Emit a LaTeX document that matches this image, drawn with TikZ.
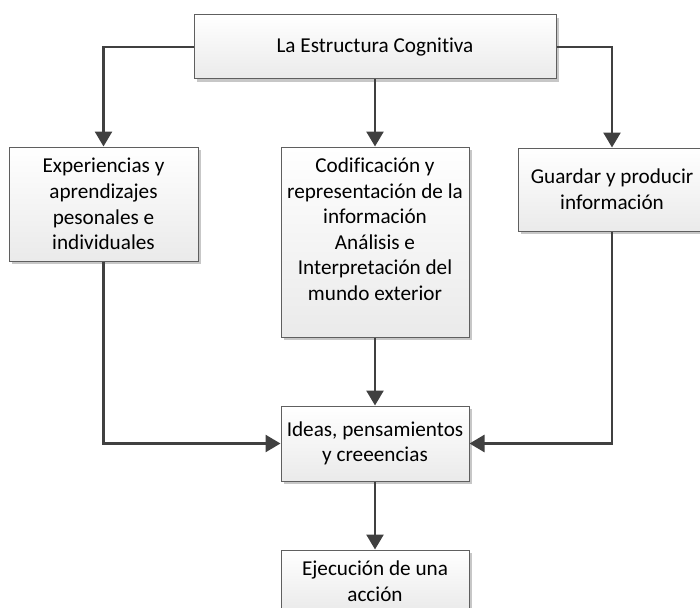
\documentclass[tikz,border=0pt]{standalone}
\usepackage{fontspec}
\setmainfont{Carlito}[Ligatures=NoCommon]
\usetikzlibrary{arrows.meta,shadows}
\definecolor{linec}{HTML}{404040}
\definecolor{boxb}{HTML}{5F5F5F}
\definecolor{boxbot}{HTML}{EAEAEA}
\tikzset{
  box/.style={draw=boxb, line width=1pt, top color=white, bottom color=boxbot,
    drop shadow={shadow xshift=3pt, shadow yshift=-3pt, fill=black!22, opacity=1},
    align=center, inner sep=0pt,
    font=\fontsize{21.2}{25.6}\selectfont},
  conn/.style={draw=linec, line width=2.6pt, -{Triangle[width=17pt,length=15pt]}},
}
\begin{document}
\begin{tikzpicture}[x=1pt,y=-1pt]
\useasboundingbox (0,0) rectangle (700,607);
\clip (0,0) rectangle (700,607);
\node[box, minimum width=362pt, minimum height=64pt] (top) at (375,47) {La Estructura Cognitiva};
\node[box, minimum width=189pt, minimum height=114pt] (left) at (103.5,204) {Experiencias y\\aprendizajes\\pesonales e\\individuales};
\node[box, minimum width=188pt, minimum height=190pt] (mid) at (375,242) {Codificación y\\representación de la\\información\\Análisis e\\Interpretación del\\mundo exterior\\\mbox{}};
\node[box, minimum width=188pt, minimum height=83pt] (right) at (612,189.5) {Guardar y producir\\información};
\node[box, minimum width=188pt, minimum height=75pt] (ideas) at (375,443.5) {Ideas, pensamientos\\y creeencias};
\node[box, minimum width=188pt, minimum height=62pt] (ejec) at (375,581) {Ejecución de una\\acción};
\draw[conn] (top.west) -| (left.north);
\draw[conn] (top.east) -| (right.north);
\draw[conn] (top.south) -- (mid.north);
\draw[conn] (left.south) |- (ideas.west);
\draw[conn] (right.south) |- (ideas.east);
\draw[conn] (mid.south) -- (ideas.north);
\draw[conn] (ideas.south) -- (ejec.north);
\end{tikzpicture}
\end{document}
